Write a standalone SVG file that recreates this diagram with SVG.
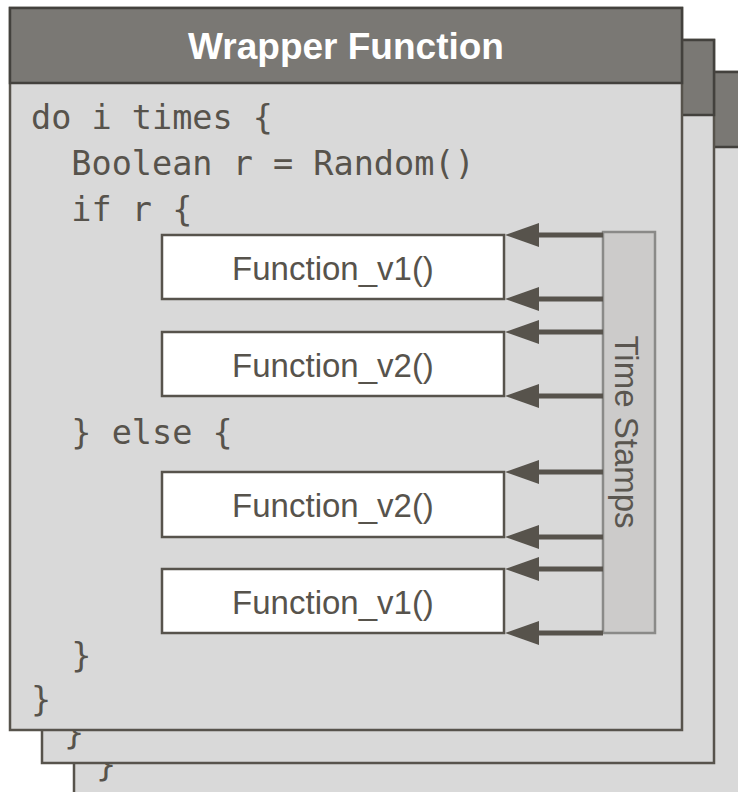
<svg xmlns="http://www.w3.org/2000/svg" width="738" height="792" viewBox="0 0 738 792">
  <defs>
    <style>
      .body { fill: #d9d9d9; stroke: #57534c; stroke-width: 2.5; }
      .head { fill: #7a7874; stroke: #43413d; stroke-width: 2.5; }
      .code { font-family: "DejaVu Sans Mono", "Liberation Mono", monospace; font-size: 33.5px; fill: #57534c; }
      .title { font-family: "Liberation Sans", Arial, sans-serif; font-weight: bold; font-size: 37px; fill: #ffffff; text-anchor: middle; }
      .fbox { fill: #ffffff; stroke: #57534c; stroke-width: 2.5; }
      .ftext { font-family: "Liberation Sans", Arial, sans-serif; font-size: 33px; fill: #57534c; text-anchor: middle; }
      .ts { fill: #cccbca; stroke: #8a8a88; stroke-width: 2.5; }
      .tstext { font-family: "Liberation Sans", Arial, sans-serif; font-size: 33px; fill: #5a5650; text-anchor: middle; }
      .arrow { stroke: #57534c; stroke-width: 5; fill: none; }
      .head-tip { fill: #57534c; }
    </style>
  </defs>

  <g id="card3">
    <rect class="body" x="74" y="72" width="680" height="740"/>
    <rect class="head" x="74" y="72" width="680" height="75"/>
    <text class="code" x="96" y="776">}</text>
  </g>

  <g id="card2">
    <rect class="body" x="42" y="40" width="672" height="723"/>
    <rect class="head" x="42" y="40" width="672" height="75"/>
    <text class="code" x="64" y="744">}</text>
  </g>

  <g id="card1">
    <rect class="body" x="10" y="8" width="672" height="722"/>
    <rect class="head" x="10" y="8" width="672" height="75"/>
    <text class="title" x="346" y="59">Wrapper Function</text>
    <text class="code" x="31" y="129">do i times {</text>
    <text class="code" x="31" y="175" xml:space="preserve">  Boolean r = Random()</text>
    <text class="code" x="31" y="221" xml:space="preserve">  if r {</text>
    <text class="code" x="31" y="444" xml:space="preserve">  } else {</text>
    <text class="code" x="31" y="667" xml:space="preserve">  }</text>
    <text class="code" x="31" y="711">}</text>
  </g>

  <g id="f1">
    <rect class="fbox" x="162" y="235" width="342" height="64"/>
    <text class="ftext" x="333" y="280">Function_v1()</text>
  </g>
  <g id="f2">
    <rect class="fbox" x="162" y="332" width="342" height="64"/>
    <text class="ftext" x="333" y="377">Function_v2()</text>
  </g>
  <g id="f3">
    <rect class="fbox" x="162" y="472" width="342" height="65"/>
    <text class="ftext" x="333" y="517">Function_v2()</text>
  </g>
  <g id="f4">
    <rect class="fbox" x="162" y="569" width="342" height="64"/>
    <text class="ftext" x="333" y="614">Function_v1()</text>
  </g>

  <g id="timestamps">
    <rect class="ts" x="603" y="232" width="52" height="401"/>
    <text class="tstext" transform="translate(615,432) rotate(90)">Time Stamps</text>
  </g>

  <g id="connectors">
    <line class="arrow" x1="603" y1="235" x2="535" y2="235"/>
    <polygon class="head-tip" points="505,235 539,223 539,247"/>
    <line class="arrow" x1="603" y1="299" x2="535" y2="299"/>
    <polygon class="head-tip" points="505,299 539,287 539,311"/>
    <line class="arrow" x1="603" y1="332" x2="535" y2="332"/>
    <polygon class="head-tip" points="505,332 539,320 539,344"/>
    <line class="arrow" x1="603" y1="396" x2="535" y2="396"/>
    <polygon class="head-tip" points="505,396 539,384 539,408"/>
    <line class="arrow" x1="603" y1="472" x2="535" y2="472"/>
    <polygon class="head-tip" points="505,472 539,460 539,484"/>
    <line class="arrow" x1="603" y1="537" x2="535" y2="537"/>
    <polygon class="head-tip" points="505,537 539,525 539,549"/>
    <line class="arrow" x1="603" y1="569" x2="535" y2="569"/>
    <polygon class="head-tip" points="505,569 539,557 539,581"/>
    <line class="arrow" x1="603" y1="633" x2="535" y2="633"/>
    <polygon class="head-tip" points="505,633 539,621 539,645"/>
  </g>
</svg>
